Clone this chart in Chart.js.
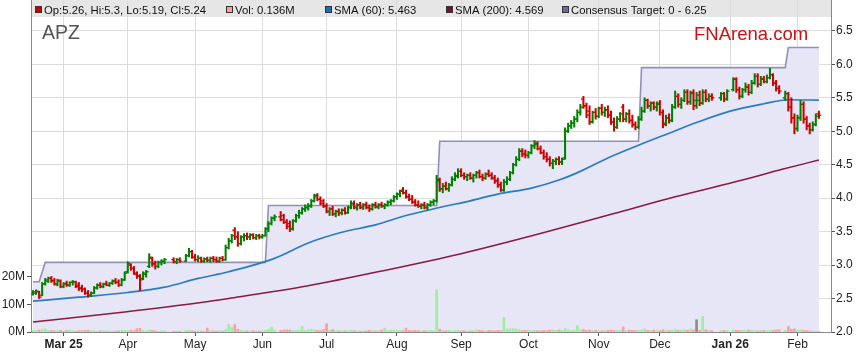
<!DOCTYPE html>
<html><head><meta charset="utf-8">
<script src="https://cdn.jsdelivr.net/npm/chart.js@4.4.1/dist/chart.umd.min.js"></script>
<style>html,body{margin:0;padding:0;background:#fff;}#wrap{position:relative;width:859px;height:363px;}</style>
</head><body><div id="wrap"><canvas id="c" width="859" height="363" style="width:859px;height:363px"></canvas></div>
<script>
// x positions are weekday slots starting Mon 17 Feb 2025 (holidays = null)
const tickIdx = [10,31,53,75,96,119,140,162,185,205,228,250];
const tickLabels = ["Mar 25","Apr","May","Jun","Jul","Aug","Sep","Oct","Nov","Dec","Jan 26","Feb"];
const priceTicks = [2.0,2.5,3.0,3.5,4.0,4.5,5.0,5.5,6.0,6.5];
const volTicks = [0,10,20];

const opens = [
2.57,2.58,2.60,2.55,2.72,2.76,2.80,2.77,2.71,2.76,
2.68,2.72,2.70,2.74,2.75,2.70,2.66,2.64,2.58,2.55,
2.58,2.66,2.70,2.68,2.72,2.70,2.73,2.76,2.74,2.70,
2.78,2.90,3.00,2.95,2.86,2.84,2.80,2.86,2.98,3.10,
3.02,2.98,3.04,3.06,null,null,3.08,3.05,3.08,null,
3.06,3.14,3.20,3.12,3.08,3.10,3.06,3.09,3.07,3.10,
3.08,3.06,3.10,3.08,3.26,3.36,3.52,3.42,3.32,3.42,
3.44,3.42,3.45,3.41,3.44,3.42,3.44,3.54,3.62,3.70,
null,3.72,3.74,3.64,3.62,3.54,3.66,3.74,3.78,3.84,
3.86,3.88,3.96,4.04,3.98,3.96,3.88,3.80,3.84,3.76,
3.80,3.78,3.82,3.78,3.86,3.92,3.86,3.90,3.86,3.90,
3.86,3.84,3.90,3.87,3.90,3.88,3.90,3.94,3.96,4.02,
4.06,4.12,4.08,4.02,3.98,3.94,3.90,3.88,3.90,3.86,
3.90,3.94,3.96,4.28,4.14,4.18,4.14,4.20,4.28,4.32,
4.40,4.34,4.32,4.34,4.30,4.34,4.38,4.32,4.30,4.36,
4.34,4.30,4.26,4.20,4.12,4.24,4.28,4.38,4.50,4.58,
4.70,4.66,4.64,4.68,4.78,4.82,4.74,4.68,4.62,4.58,
4.52,4.55,4.58,4.54,4.60,5.00,5.08,5.12,5.18,5.28,
5.48,5.38,5.30,5.14,5.28,5.22,5.34,5.28,5.32,5.24,
5.14,5.06,5.18,5.36,5.18,5.26,5.16,5.10,5.06,5.18,
5.30,5.46,5.38,5.42,5.36,5.42,5.28,5.12,5.20,5.16,
5.36,5.52,5.40,5.46,5.58,5.44,5.58,5.46,5.54,5.42,
5.58,5.48,5.52,null,null,5.50,5.56,5.48,null,5.62,
5.78,5.62,5.52,5.62,5.66,5.58,5.72,5.82,5.70,5.78,
5.74,5.80,5.84,5.72,5.64,null,5.50,5.56,5.36,5.20,
5.04,5.20,5.40,5.18,5.08,5.02,5.10,5.26];
const highs = [
2.62,2.63,2.61,2.74,2.80,2.82,2.83,2.80,2.79,2.78,
2.74,2.76,2.75,2.77,2.76,2.74,2.70,2.66,2.62,2.60,
2.68,2.72,2.74,2.73,2.76,2.74,2.78,2.80,2.78,2.80,
2.90,3.05,3.02,2.98,2.90,2.86,2.90,2.92,3.17,3.12,
3.06,3.06,3.08,3.10,null,null,3.11,3.10,3.11,null,
3.16,3.25,3.22,3.16,3.14,3.12,3.11,3.12,3.12,3.13,
3.12,3.12,3.13,3.30,3.40,3.46,3.56,3.50,3.44,3.47,
3.48,3.47,3.47,3.46,3.46,3.46,3.56,3.65,3.72,3.75,
null,3.80,3.76,3.68,3.66,3.68,3.76,3.82,3.86,3.90,
3.92,3.98,4.06,4.07,4.02,3.98,3.92,3.86,3.88,3.82,
3.84,3.84,3.86,3.88,3.96,3.96,3.92,3.94,3.92,3.94,
3.90,3.92,3.94,3.92,3.94,3.92,3.96,3.98,4.04,4.08,
4.12,4.16,4.12,4.06,4.04,3.98,3.96,3.92,3.94,3.92,
3.96,3.98,4.34,4.30,4.22,4.24,4.22,4.32,4.38,4.44,
4.44,4.38,4.36,4.38,4.36,4.40,4.42,4.36,4.38,4.42,
4.38,4.34,4.30,4.24,4.28,4.32,4.40,4.52,4.62,4.74,
4.74,4.72,4.70,4.80,4.86,4.84,4.78,4.72,4.68,4.62,
4.58,4.60,4.62,4.60,5.05,5.12,5.16,5.22,5.32,5.40,
5.52,5.42,5.38,5.30,5.34,5.36,5.40,5.36,5.38,5.30,
5.20,5.22,5.28,5.40,5.28,5.32,5.24,5.14,5.22,5.36,
5.50,5.48,5.44,5.44,5.44,5.46,5.32,5.24,5.26,5.40,
5.60,5.56,5.50,5.62,5.62,5.60,5.62,5.58,5.60,5.62,
5.62,5.56,5.56,null,null,5.58,5.58,5.62,null,5.80,
5.80,5.66,5.64,5.72,5.70,5.76,5.86,5.86,5.82,5.82,
5.84,5.94,5.86,5.76,5.68,null,5.60,5.58,5.50,5.26,
5.24,5.46,5.44,5.22,5.12,5.14,5.26,5.30];
const lows = [
2.55,2.56,2.50,2.54,2.70,2.74,2.74,2.70,2.69,2.66,
2.66,2.68,2.68,2.70,2.66,2.62,2.60,2.56,2.52,2.53,
2.57,2.64,2.66,2.66,2.69,2.68,2.71,2.72,2.68,2.69,
2.77,2.88,2.92,2.86,2.80,2.62,2.78,2.82,2.96,2.98,
2.94,2.96,3.00,3.02,null,null,3.03,3.02,3.04,null,
3.05,3.12,3.10,3.06,3.05,3.04,3.04,3.05,3.04,3.05,
3.04,3.04,3.06,3.07,3.24,3.33,3.38,3.28,3.30,3.36,
3.38,3.38,3.39,3.38,3.39,3.40,3.43,3.50,3.60,3.66,
null,3.66,3.62,3.54,3.50,3.52,3.64,3.70,3.76,3.80,
3.82,3.86,3.94,3.96,3.90,3.86,3.78,3.74,3.74,3.72,
3.74,3.75,3.76,3.77,3.84,3.84,3.82,3.84,3.83,3.84,
3.80,3.82,3.85,3.84,3.86,3.84,3.88,3.90,3.94,3.98,
4.02,4.06,4.00,3.96,3.92,3.88,3.86,3.84,3.84,3.82,
3.88,3.90,3.94,4.10,4.08,4.12,4.10,4.18,4.26,4.30,
4.32,4.28,4.26,4.28,4.24,4.30,4.30,4.26,4.28,4.32,
4.28,4.22,4.16,4.10,4.10,4.20,4.26,4.36,4.48,4.56,
4.62,4.60,4.60,4.66,4.74,4.72,4.66,4.58,4.54,4.48,
4.44,4.50,4.50,4.50,4.58,4.98,5.04,5.06,5.14,5.24,
5.34,5.20,5.10,5.12,5.18,5.20,5.24,5.22,5.20,5.10,
5.00,5.04,5.14,5.14,5.14,5.12,5.06,5.02,5.04,5.16,
5.28,5.34,5.30,5.32,5.30,5.24,5.05,5.08,5.12,5.14,
5.34,5.36,5.34,5.44,5.40,5.40,5.32,5.34,5.38,5.40,
5.44,5.44,5.46,null,null,5.46,5.44,5.46,null,5.60,
5.58,5.48,5.50,5.58,5.54,5.56,5.70,5.66,5.68,5.72,
5.72,5.78,5.68,5.60,5.56,null,5.46,5.30,5.12,4.96,
5.00,5.16,5.12,5.02,4.96,5.00,5.08,5.19];
const closes = [
2.60,2.61,2.52,2.72,2.78,2.80,2.76,2.72,2.77,2.68,
2.72,2.70,2.74,2.75,2.68,2.65,2.64,2.58,2.55,2.58,
2.66,2.70,2.68,2.72,2.70,2.73,2.76,2.74,2.70,2.78,
2.88,3.02,2.95,2.88,2.84,2.78,2.88,2.90,3.12,3.02,
2.98,3.04,3.06,3.08,null,null,3.05,3.08,3.06,null,
3.14,3.20,3.12,3.08,3.10,3.06,3.09,3.07,3.10,3.08,
3.06,3.10,3.08,3.26,3.36,3.44,3.42,3.32,3.42,3.44,
3.42,3.45,3.41,3.44,3.42,3.44,3.54,3.62,3.70,3.72,
null,3.68,3.64,3.58,3.54,3.66,3.74,3.78,3.84,3.86,
3.88,3.96,4.02,3.98,3.92,3.88,3.80,3.84,3.76,3.80,
3.78,3.82,3.78,3.86,3.92,3.86,3.90,3.86,3.90,3.86,
3.84,3.90,3.87,3.90,3.88,3.90,3.94,3.96,4.02,4.06,
4.10,4.08,4.02,3.98,3.94,3.90,3.88,3.90,3.86,3.90,
3.94,3.96,4.26,4.14,4.18,4.14,4.20,4.28,4.34,4.40,
4.34,4.32,4.34,4.30,4.34,4.38,4.32,4.30,4.36,4.34,
4.30,4.26,4.20,4.12,4.24,4.28,4.38,4.50,4.58,4.70,
4.66,4.64,4.68,4.78,4.80,4.74,4.68,4.62,4.58,4.52,
4.55,4.58,4.54,4.58,5.00,5.08,5.12,5.18,5.28,5.36,
5.38,5.24,5.14,5.28,5.22,5.34,5.28,5.32,5.24,5.14,
5.06,5.18,5.26,5.18,5.26,5.16,5.10,5.06,5.18,5.30,
5.46,5.38,5.42,5.36,5.40,5.28,5.10,5.20,5.16,5.36,
5.52,5.40,5.46,5.58,5.44,5.56,5.38,5.46,5.42,5.58,
5.48,5.52,5.50,null,null,5.56,5.48,5.60,null,5.78,
5.62,5.52,5.62,5.66,5.58,5.72,5.82,5.70,5.78,5.74,
5.80,5.84,5.72,5.64,5.60,null,5.56,5.36,5.20,5.04,
5.20,5.40,5.18,5.08,5.02,5.10,5.22,5.24];
// volume in millions
const volumes = [
0.6,0.5,0.7,1.0,1.1,0.6,0.5,0.4,0.5,0.6,
0.4,0.5,0.7,0.4,0.3,0.5,0.4,0.6,0.7,0.5,
0.4,0.3,0.4,0.5,0.3,0.4,0.3,0.3,0.4,0.6,
0.6,0.5,0.6,0.5,1.2,1.3,0.5,0.4,0.8,0.6,
0.4,0.3,0.5,0.4,null,null,0.3,0.4,0.3,null,
0.6,0.7,0.4,0.3,0.4,0.3,0.4,1.4,0.5,0.4,
0.3,0.4,0.3,0.9,2.7,1.6,2.7,1.0,0.6,0.5,
0.4,0.3,0.5,0.4,0.3,0.4,0.6,1.0,1.8,0.7,
null,0.6,0.7,0.8,0.7,0.5,0.6,0.7,2.0,0.6,
0.8,0.9,0.7,0.6,0.5,0.9,3.0,0.6,0.9,0.5,
0.4,0.5,0.4,0.5,0.6,0.5,0.4,0.3,0.5,0.4,
0.6,0.5,0.4,0.5,0.7,1.4,0.5,0.6,0.7,0.5,
0.6,0.5,1.4,0.6,0.5,0.6,0.5,0.4,0.5,0.4,
0.6,0.5,15.2,1.0,0.6,0.5,0.6,0.4,0.5,0.7,
0.4,0.5,0.3,0.4,0.5,0.7,0.6,0.5,0.4,0.6,
0.5,0.4,0.6,0.5,5.2,1.1,1.1,1.2,1.0,0.8,
0.5,0.6,0.7,0.5,0.6,0.5,0.4,0.6,0.5,0.7,
0.8,0.6,0.7,0.6,1.2,0.8,0.6,0.7,2.3,0.8,
0.9,0.6,0.7,0.5,0.6,0.5,0.4,0.5,0.6,0.7,
0.6,0.5,0.6,1.8,0.5,0.7,0.6,0.5,0.6,0.8,
1.1,0.6,0.5,0.7,0.6,0.5,0.8,0.6,0.5,0.7,
0.9,0.6,0.7,0.8,0.6,1.1,0.7,4.4,0.6,5.6,
0.8,0.6,0.5,null,null,0.5,0.6,0.5,null,0.7,
0.6,0.5,0.6,0.5,0.7,0.6,0.5,0.4,0.6,0.5,
0.5,0.7,0.6,0.7,0.8,null,0.6,2.0,1.0,1.1,
0.7,0.8,0.6,0.5,0.4,0.3,0.2,0.136];

const sma60Idx = [0,15,31,43,54,64,79,90,101,112,122,133,143,152,163,172,179,188,198,208,217,228,239,247,257];
const sma60Val = [2.46,2.52,2.59,2.67,2.80,2.90,3.10,3.33,3.49,3.60,3.74,3.86,3.96,4.06,4.15,4.27,4.40,4.60,4.79,4.97,5.13,5.30,5.41,5.47,5.463];
const sma200Idx = [0,30,55,64,90,115,140,165,190,210,232,245,257];
const sma200Val = [2.15,2.30,2.44,2.50,2.69,2.92,3.17,3.46,3.77,4.02,4.27,4.43,4.569];
const targetIdx = [0,2,4,76,77,132,133,198,199,246,247,257];
const targetVal = [2.75,2.75,3.04,3.04,3.89,3.89,4.85,4.85,5.95,5.95,6.25,6.25];

const FONT = '"Liberation Sans", Arial, Helvetica, sans-serif';
Chart.defaults.font.family = FONT;
const UP = '#008000', DN = '#d00000';
const VUP = '#9cf09c', VDN = '#ff9c9c', VEQ = '#8c8c8c';

const barData = [], volData = [];
for (let i = 0; i < closes.length; i++) {
  if (closes[i] == null) continue;
  barData.push({x: i, y: [lows[i], highs[i]], o: opens[i], c: closes[i]});
  volData.push({x: i, y: volumes[i], o: opens[i], c: closes[i]});
}
const pts = (xs, ys) => xs.map((x, k) => ({x: x, y: ys[k]}));
const labelFor = v => { const k = tickIdx.indexOf(v); return k >= 0 ? tickLabels[k] : ''; };
const last = closes.length - 1;

const overlay = {
  id: 'overlay',
  beforeDraw(chart) {
    const {ctx, chartArea: a} = chart;
    ctx.save();
    ctx.fillStyle = '#e6e6e6';
    ctx.fillRect(a.left, 0, a.right - a.left, 17);
    ctx.restore();
  },
  afterDatasetsDraw(chart) {
    const ctx = chart.ctx, xs = chart.scales.x, ys = chart.scales.y, a = chart.chartArea;
    ctx.save();
    ctx.beginPath(); ctx.rect(a.left, a.top, a.right - a.left, a.bottom - a.top); ctx.clip();
    ctx.lineWidth = 1.3;
    for (const d of barData) {
      const px = xs.getPixelForValue(d.x);
      const po = ys.getPixelForValue(d.o), pc = ys.getPixelForValue(d.c);
      ctx.strokeStyle = d.c >= d.o ? UP : DN;
      ctx.beginPath();
      ctx.moveTo(px - 2.4, po); ctx.lineTo(px, po);
      ctx.moveTo(px, pc); ctx.lineTo(px + 2.4, pc);
      ctx.stroke();
    }
    ctx.restore();
  },
  afterDraw(chart) {
    const ctx = chart.ctx;
    ctx.save();
    const items = [
      {x: 35, c: '#cc0000', t: 'Op:' + opens[last] + ', Hi:' + highs[last] + ', Lo:' + lows[last] + ', Cl:' + closes[last]},
      {x: 226, c: '#ff9c9c', t: 'Vol: ' + volumes[last] + 'M'},
      {x: 325, c: '#1f6fb0', t: 'SMA (60): ' + sma60Val[sma60Val.length - 1]},
      {x: 446, c: '#7a0f2e', t: 'SMA (200): ' + sma200Val[sma200Val.length - 1]},
      {x: 562, c: '#6c6ca0', t: 'Consensus Target: 0 - ' + targetVal[targetVal.length - 1]}
    ];
    ctx.font = '11.3px ' + FONT;
    ctx.textBaseline = 'alphabetic';
    ctx.textAlign = 'left';
    for (const it of items) {
      ctx.fillStyle = it.c;
      ctx.fillRect(it.x, 6, 7, 7);
      ctx.strokeStyle = '#333';
      ctx.lineWidth = 1;
      ctx.strokeRect(it.x + 0.5, 6.5, 6, 6);
      ctx.fillStyle = '#111';
      ctx.fillText(it.t, it.x + 9, 13.5);
    }
    ctx.font = '19.5px ' + FONT;
    ctx.fillStyle = '#555';
    ctx.fillText('APZ', 42, 39);
    ctx.font = '18.5px ' + FONT;
    ctx.fillStyle = '#cc1010';
    ctx.fillText('FNArena.com', 694, 40);
    ctx.restore();
  }
};

new Chart(document.getElementById('c'), {
  type: 'bar',
  data: {
    datasets: [
      {type: 'bar', label: 'OHLC', data: barData, xAxisID: 'x', yAxisID: 'y', barThickness: 1.4, grouped: false,
       backgroundColor: c => (c.raw && c.raw.c >= c.raw.o) ? UP : DN, order: 1},
      {type: 'line', label: 'SMA (60)', data: pts(sma60Idx, sma60Val), xAxisID: 'x', yAxisID: 'y',
       borderColor: '#2a7cc0', borderWidth: 1.7, pointRadius: 0, cubicInterpolationMode: 'monotone', fill: false, order: 2},
      {type: 'line', label: 'SMA (200)', data: pts(sma200Idx, sma200Val), xAxisID: 'x', yAxisID: 'y',
       borderColor: '#8a1a40', borderWidth: 1.5, pointRadius: 0, cubicInterpolationMode: 'monotone', fill: false, order: 3},
      {type: 'bar', label: 'Vol', data: volData, xAxisID: 'x', yAxisID: 'yv', barThickness: 2, grouped: false,
       backgroundColor: c => !c.raw ? VUP : (c.raw.c > c.raw.o ? VUP : (c.raw.c < c.raw.o ? VDN : VEQ)), order: 4},
      {type: 'line', label: 'Consensus Target', data: pts(targetIdx, targetVal), xAxisID: 'x', yAxisID: 'y',
       borderColor: 'rgba(120,120,170,0.8)', borderWidth: 1.6, pointRadius: 0, tension: 0,
       fill: 'start', backgroundColor: '#e6e6f6', order: 5}
    ]
  },
  options: {
    responsive: false, animation: false, devicePixelRatio: 1,
    layout: {padding: 0},
    plugins: {legend: {display: false}, tooltip: {enabled: false}},
    scales: {
      x: {
        type: 'linear', position: 'bottom', min: -0.65, max: 260.96, offset: false,
        afterBuildTicks: s => { s.ticks = tickIdx.map(v => ({value: v})); },
        afterFit: s => { s.height = 31; s.paddingLeft = 0; s.paddingRight = 0; },
        ticks: {
          autoSkip: false, maxRotation: 0, minRotation: 0, padding: 1, color: '#222',
          callback: v => labelFor(v),
          font: c => ({family: FONT, size: 12, weight: (c.tick && /\d/.test(labelFor(c.tick.value))) ? 'bold' : 'normal'})
        },
        grid: {color: '#dcdcdc', tickColor: '#555', tickLength: 4, offset: false, drawOnChartArea: true},
        border: {color: '#888', width: 1}
      },
      y: {
        type: 'linear', position: 'right', min: 2, max: 6.96,
        afterBuildTicks: s => { s.ticks = priceTicks.map(v => ({value: v})); },
        afterFit: s => { s.width = 28; s.paddingTop = 0; s.paddingBottom = 0; },
        ticks: {padding: 1, color: '#222', font: {size: 12}, callback: v => Number(v).toFixed(1)},
        grid: {color: '#dcdcdc', tickColor: '#555', tickLength: 4},
        border: {color: '#888', width: 1}
      },
      yv: {
        type: 'linear', position: 'left', min: 0, max: 119.4,
        afterBuildTicks: s => { s.ticks = volTicks.map(v => ({value: v})); },
        afterFit: s => { s.width = 31; s.paddingTop = 0; s.paddingBottom = 0; },
        ticks: {padding: 2, color: '#222', font: {size: 12}, callback: v => v + 'M'},
        grid: {drawOnChartArea: false, tickColor: '#555', tickLength: 4},
        border: {color: '#888', width: 1}
      }
    }
  },
  plugins: [overlay]
});
</script>
</body></html>
